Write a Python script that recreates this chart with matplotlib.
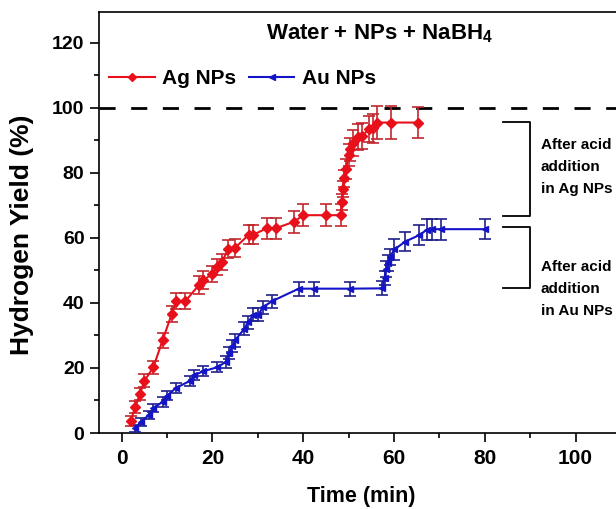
import matplotlib
matplotlib.use("Agg")
import matplotlib.pyplot as plt
from matplotlib.ticker import MultipleLocator

plt.rcParams["font.family"] = ["Liberation Sans", "DejaVu Sans"]
plt.rcParams["font.weight"] = "bold"
plt.rcParams["mathtext.fontset"] = "custom"
plt.rcParams["mathtext.default"] = "bf"
plt.rcParams["mathtext.bf"] = "Liberation Sans:bold"
plt.rcParams["mathtext.rm"] = "Liberation Sans:bold"

# Ag NPs
ag_time = [2, 3, 4, 5, 7, 9, 11, 12, 14, 17,
           18, 20, 21, 22, 23.5, 25, 28, 29, 32, 34,
           38, 40, 45, 48.3, 48.5, 48.7, 49, 49.4, 50, 50.3,
           51, 52, 53, 54.4, 55.3, 56.3, 59.3, 65.2]
ag_yield = [3.8, 8, 12, 16, 20.3, 28.5, 36.5, 40.5, 40.5, 45.5,
            47, 49, 51, 52.5, 56.5, 57, 61, 61, 63, 63,
            65, 67, 67, 67, 71, 75, 78.3, 81.2, 85.5, 87.3,
            89.3, 91.2, 91.4, 93.4, 93.7, 95.5, 95.5, 95.5]
ag_err = [1.5, 1.8, 1.8, 2, 2, 2.2, 2.5, 2.5, 2.5, 2.8,
          2.8, 2.5, 2.5, 2.5, 2.8, 2.8, 3, 3, 3.2, 3.2,
          3.4, 3.4, 3.3, 3.3, 2.5, 2.5, 2.5, 3, 3.5, 3.5,
          4, 4, 4, 4, 4.5, 5, 5, 4.9]

# Au NPs
au_time = [3, 4.2, 6, 7, 9, 10, 12, 15, 16, 18,
           21, 23, 23.7, 24.4, 25, 27, 27.8, 29, 30.1, 31.1,
           33.2, 39, 42.4, 50.4, 57.4, 57.9, 58.2, 58.6, 59.1, 60.1,
           62.5, 65.6, 67.2, 68.3, 70.3, 80]
au_yield = [1.4, 3.5, 5.5, 7.6, 9.6, 11.5, 13.9, 16, 17.8, 19,
            20.2, 21.9, 24.7, 26.8, 28.6, 32, 34, 36.3, 36.3, 38.7,
            40.6, 44.4, 44.4, 44.4, 44.5, 47.6, 50.4, 52.4, 54.2, 56.5,
            58.9, 60.9, 62.5, 62.7, 62.7, 62.7]
au_err = [1, 1.2, 1.2, 1.2, 1.5, 1.5, 1.5, 1.5, 1.5, 1.5,
          1.5, 1.8, 1.8, 1.8, 2, 2, 2, 2, 2, 2,
          2, 2.2, 2.2, 2.2, 2.2, 2.2, 2.5, 2.5, 2.5, 3.3,
          2.9, 3.2, 3.2, 3.2, 3.2, 3]

full_yield = 100
# bracket spans (yield %) for the acid-addition notes
ag_bracket = (66.9, 95.8)
au_bracket = (44.5, 63.3)

fig = plt.figure(figsize=(6.16, 5.09), dpi=100)
ax = fig.add_axes([0.1607, 0.1493, 0.8474, 0.8271])

ag = ax.errorbar(ag_time, ag_yield, yerr=ag_err, color="#e8101a", marker="D",
                 markersize=5, linewidth=1.5, ecolor="#c0282e", elinewidth=1.2,
                 capsize=4, capthick=1.2, label="Ag NPs", zorder=3)
au = ax.errorbar(au_time, au_yield, yerr=au_err, color="#1414c8", marker="<",
                 markersize=5, linewidth=1.5, ecolor="#20208a", elinewidth=1.2,
                 capsize=4, capthick=1.2, label="Au NPs", zorder=3)

ax.axhline(full_yield, color="black", linewidth=2, linestyle=(0, (5.8, 5.6)),
           zorder=2)

# brackets
for lo, hi in (ag_bracket, au_bracket):
    ax.plot([84, 90, 90, 84], [hi, hi, lo, lo], color="black", linewidth=1.3,
            clip_on=False)

ax.text(92.3, 81.8, "After acid\naddition\nin Ag NPs", fontsize=11,
        fontweight="bold", ha="left", va="center", linespacing=1.75)
ax.text(92.3, 44.3, "After acid\naddition\nin Au NPs", fontsize=11,
        fontweight="bold", ha="left", va="center", linespacing=1.75)

ax.text(0.538, 0.948, "Water + NPs + NaBH$_4$", transform=ax.transAxes,
        fontsize=16, fontweight="bold", ha="center", va="center")

ax.legend(handles=[ag[0], au[0]], labels=["Ag NPs", "Au NPs"],
          loc="center left", bbox_to_anchor=(0.019, 0.841), ncol=2,
          frameon=False, fontsize=15, handlelength=2.2, handletextpad=0.35,
          columnspacing=0.6, borderpad=0, borderaxespad=0, markerscale=0.8)

ax.set_xlim(-5, 110)
ax.set_ylim(0, 129.5)
ax.xaxis.set_major_locator(MultipleLocator(20))
ax.xaxis.set_minor_locator(MultipleLocator(10))
ax.yaxis.set_major_locator(MultipleLocator(20))
ax.yaxis.set_minor_locator(MultipleLocator(10))
ax.tick_params(which="both", direction="out", width=1.2, top=False, right=False)
ax.tick_params(which="major", length=6.5)
ax.tick_params(which="minor", length=3.5)
ax.tick_params(axis="x", labelsize=15, pad=5)
ax.tick_params(axis="y", labelsize=14, pad=4)
for sp in ax.spines.values():
    sp.set_linewidth(1.2)

ax.set_xlabel("Time (min)", fontsize=15.5, fontweight="bold")
ax.set_ylabel("Hydrogen Yield (%)", fontsize=19, fontweight="bold")
ax.xaxis.set_label_coords(0.502, -0.152)
ax.xaxis.label.set_va("center")
ax.yaxis.set_label_coords(-0.147, 0.47)
ax.yaxis.label.set_va("center")

fig.savefig("out.png", dpi=100)
